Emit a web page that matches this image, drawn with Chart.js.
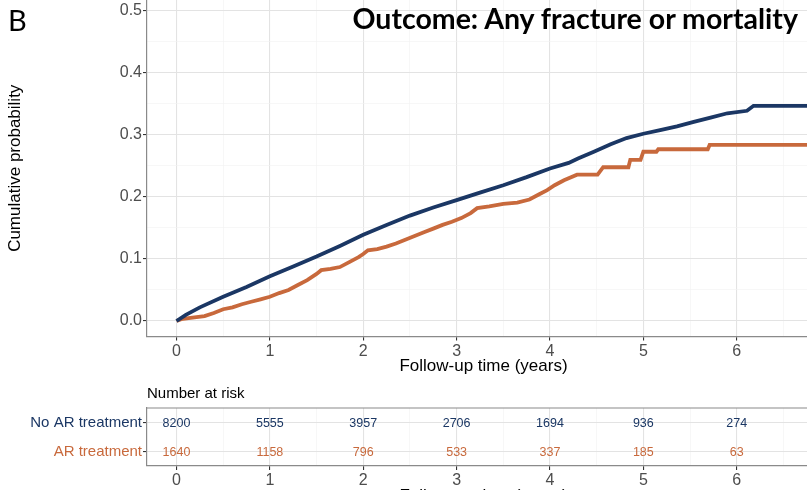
<!DOCTYPE html>
<html>
<head>
<meta charset="utf-8">
<script src="https://cdn.jsdelivr.net/npm/chart.js@4.4.0/dist/chart.umd.min.js"></script>
<style>
  html, body { margin: 0; padding: 0; background: #fff; overflow: hidden; }
  #wrap { position: relative; width: 807px; height: 490px; overflow: hidden; background: #fff; }
  canvas { position: absolute; left: 0; }
  #kmChart { top: 0; }
  #riskChart { top: 380px; }
  .txt { position: absolute; white-space: nowrap; }
  #panelLetter { left: 8px; top: 2px; font: 29px/36px Lato, "Liberation Sans", sans-serif; color: #000; }
  #plotTitle { right: 9px; top: 0; font: bold 28.5px/36px Lato, "Liberation Sans", sans-serif; color: #000; }
  #riskTitle { left: 147px; top: 384px; font: 15px/18px "Liberation Sans", Arial, sans-serif; color: #000; }
</style>
</head>
<body>
<div id="wrap">
  <canvas id="kmChart" width="820" height="380"></canvas>
  <canvas id="riskChart" width="820" height="130"></canvas>
  <div class="txt" id="panelLetter">B</div>
  <div class="txt" id="plotTitle">Outcome: Any fracture or mortality</div>
  <div class="txt" id="riskTitle">Number at risk</div>
</div>
<script>
// Cumulative incidence, No AR treatment (time in years, probability)
const noArTimes = [0, 0.1, 0.25, 0.5, 0.75, 1.0, 1.25, 1.5, 1.75, 2.0, 2.25, 2.5, 2.75, 3.0, 3.25, 3.5,
  3.75, 4.0, 4.2, 4.3, 4.47, 4.65, 4.82, 5.0, 5.18, 5.36, 5.54, 5.72, 5.9, 6.11, 6.18, 6.9];
const noArProb = [0, 0.010, 0.022, 0.039, 0.055, 0.072, 0.088, 0.104, 0.121, 0.139, 0.155, 0.170, 0.183, 0.195, 0.207, 0.219,
  0.232, 0.246, 0.255, 0.262, 0.273, 0.285, 0.295, 0.302, 0.308, 0.314, 0.321, 0.328, 0.335, 0.339, 0.347, 0.347];

// Cumulative incidence, AR treatment (repeated times mark the visible steps)
const arTimes = [0, 0.05, 0.15, 0.3, 0.4, 0.5, 0.6, 0.7, 0.8, 0.9, 1.0, 1.1, 1.2, 1.3, 1.4, 1.5, 1.55, 1.65, 1.75,
  1.85, 1.95, 2.0, 2.05, 2.15, 2.25, 2.35, 2.45, 2.55, 2.65, 2.75, 2.85, 2.95, 3.05, 3.15, 3.22, 3.35, 3.5, 3.65,
  3.78, 3.88, 3.97, 4.05, 4.15, 4.29, 4.51, 4.57, 4.84, 4.86, 4.97, 5.0, 5.14, 5.16, 5.69, 5.71, 6.9];
const arProb = [0, 0.003, 0.005, 0.008, 0.013, 0.019, 0.022, 0.027, 0.031, 0.035, 0.039, 0.045, 0.050, 0.058, 0.066, 0.076, 0.082, 0.084, 0.087,
  0.095, 0.103, 0.108, 0.114, 0.116, 0.120, 0.125, 0.131, 0.137, 0.143, 0.149, 0.155, 0.160, 0.166, 0.174, 0.182, 0.185, 0.189, 0.191,
  0.196, 0.204, 0.211, 0.219, 0.227, 0.236, 0.236, 0.248, 0.248, 0.260, 0.260, 0.273, 0.273, 0.277, 0.277, 0.284, 0.284];

// Number at risk table
const riskTimes = [0, 1, 2, 3, 4, 5, 6];
const noArRisk = [8200, 5555, 3957, 2706, 1694, 936, 274];
const arRisk = [1640, 1158, 796, 533, 337, 185, 63];
const groupLabels = ['No AR treatment', 'AR treatment'];

// Axis ticks (major + minor grid positions)
const xTickValues = [0, 0.5, 1, 1.5, 2, 2.5, 3, 3.5, 4, 4.5, 5, 5.5, 6, 6.5];
const yTickValues = [0, 0.05, 0.1, 0.15, 0.2, 0.25, 0.3, 0.35, 0.4, 0.45, 0.5];

const NAVY = '#1b3764';
const ORANGE = '#c8693c';
const FONT = '"Liberation Sans", Arial, sans-serif';
const X_MIN = -0.316;
const X_MAX = 6.892;

function isMajor(v, step) {
  return Math.abs(v / step - Math.round(v / step)) < 1e-6;
}

// Gridline styling like ggplot theme_bw
function gridColor(step) {
  return (c) => (c.tick && isMajor(c.tick.value, step)) ? '#e3e3e3' : '#f1f1f1';
}
function gridWidth(step) {
  return (c) => (c.tick && isMajor(c.tick.value, step)) ? 1.1 : 0.6;
}
function tickMarkColor(step) {
  return (c) => (c.tick && isMajor(c.tick.value, step)) ? '#333333' : 'rgba(0,0,0,0)';
}

// Draws the top edge of the panel box (left/bottom come from axis borders)
const panelTopBorder = {
  id: 'panelTopBorder',
  afterDraw(chart, args, opts) {
    if (!opts.display) return;
    const { ctx, chartArea } = chart;
    ctx.save();
    ctx.strokeStyle = '#8a8a8a';
    ctx.lineWidth = 1.2;
    ctx.beginPath();
    ctx.moveTo(chartArea.left, chartArea.top);
    ctx.lineTo(chartArea.right, chartArea.top);
    ctx.stroke();
    ctx.restore();
  }
};

// Writes the number at risk at each point position
const riskNumbers = {
  id: 'riskNumbers',
  afterDatasetsDraw(chart) {
    const ctx = chart.ctx;
    chart.data.datasets.forEach((ds, i) => {
      const meta = chart.getDatasetMeta(i);
      ctx.save();
      ctx.font = '12.5px ' + FONT;
      ctx.fillStyle = ds.textColor;
      ctx.textAlign = 'center';
      ctx.textBaseline = 'middle';
      meta.data.forEach((pt, j) => {
        ctx.fillText(String(ds.data[j].n), pt.x, pt.y + 1);
      });
      ctx.restore();
    });
  }
};

function xAxis(height) {
  return {
    type: 'linear',
    min: X_MIN,
    max: X_MAX,
    afterBuildTicks: (axis) => { axis.ticks = xTickValues.map(v => ({ value: v })); },
    afterFit: (scale) => {
      scale.height = height;
      scale.paddingLeft = 0;
      scale.paddingRight = 0;
    },
    border: { display: true, color: '#8a8a8a', width: 1.2 },
    grid: {
      color: gridColor(1),
      lineWidth: gridWidth(1),
      drawTicks: true,
      tickLength: 4,
      tickColor: tickMarkColor(1),
      tickWidth: 1.1
    },
    ticks: {
      autoSkip: false,
      maxRotation: 0,
      padding: 1,
      color: '#4d4d4d',
      font: { family: FONT, size: 16 },
      callback: (v) => isMajor(v, 1) ? String(Math.round(v)) : ''
    },
    title: {
      display: true,
      text: 'Follow-up time (years)',
      color: '#000',
      font: { family: FONT, size: 17 },
      padding: { top: 4, bottom: 3 }
    }
  };
}

function buildKmChart() {
  const ctx = document.getElementById('kmChart').getContext('2d');
  new Chart(ctx, {
    type: 'line',
    data: {
      datasets: [
        {
          label: 'No AR treatment',
          data: noArTimes.map((t, i) => ({ x: t, y: noArProb[i] })),
          borderColor: NAVY,
          borderWidth: 3.8,
          pointRadius: 0,
          tension: 0,
          fill: false
        },
        {
          label: 'AR treatment',
          data: arTimes.map((t, i) => ({ x: t, y: arProb[i] })),
          borderColor: ORANGE,
          borderWidth: 3.8,
          pointRadius: 0,
          tension: 0,
          fill: false
        }
      ]
    },
    options: {
      responsive: false,
      animation: false,
      layout: { padding: 0 },
      plugins: {
        legend: { display: false },
        tooltip: { enabled: false },
        panelTopBorder: { display: false }
      },
      scales: {
        x: xAxis(43.5),
        y: {
          type: 'linear',
          min: -0.025,
          max: 0.5177,
          afterBuildTicks: (axis) => { axis.ticks = yTickValues.map(v => ({ value: v })); },
          afterFit: (scale) => {
            scale.width = 147;
            scale.paddingTop = 0;
            scale.paddingBottom = 0;
          },
          border: { display: true, color: '#8a8a8a', width: 1.2 },
          grid: {
            color: gridColor(0.1),
            lineWidth: gridWidth(0.1),
            drawTicks: true,
            tickLength: 4,
            tickColor: tickMarkColor(0.1),
            tickWidth: 1.1
          },
          ticks: {
            autoSkip: false,
            padding: 1,
            color: '#4d4d4d',
            font: { family: FONT, size: 16 },
            callback: (v) => isMajor(v, 0.1) ? v.toFixed(1) : ''
          },
          title: {
            display: true,
            text: 'Cumulative probability',
            color: '#000',
            font: { family: FONT, size: 17 },
            padding: { top: 5, bottom: 4 }
          }
        }
      }
    }
  });
}

function buildRiskChart() {
  const ctx = document.getElementById('riskChart').getContext('2d');
  new Chart(ctx, {
    type: 'scatter',
    data: {
      datasets: [
        {
          label: groupLabels[0],
          data: riskTimes.map((t, i) => ({ x: t, y: groupLabels[0], n: noArRisk[i] })),
          textColor: NAVY,
          pointRadius: 0,
          showLine: false
        },
        {
          label: groupLabels[1],
          data: riskTimes.map((t, i) => ({ x: t, y: groupLabels[1], n: arRisk[i] })),
          textColor: ORANGE,
          pointRadius: 0,
          showLine: false
        }
      ]
    },
    options: {
      responsive: false,
      animation: false,
      layout: { padding: { top: 28, left: 0, right: 0, bottom: 0 } },
      plugins: {
        legend: { display: false },
        tooltip: { enabled: false },
        panelTopBorder: { display: true }
      },
      scales: {
        x: xAxis(44),
        y: {
          type: 'category',
          labels: groupLabels,
          offset: true,
          afterFit: (scale) => {
            scale.width = 147;
            scale.paddingTop = 0;
            scale.paddingBottom = 0;
          },
          border: { display: true, color: '#8a8a8a', width: 1.2 },
          grid: {
            offset: false,
            color: '#e3e3e3',
            lineWidth: 1.1,
            drawTicks: true,
            tickLength: 4,
            tickColor: '#333333',
            tickWidth: 1.1
          },
          ticks: {
            padding: 1,
            color: (c) => c.index === 0 ? NAVY : ORANGE,
            font: { family: FONT, size: 15 }
          }
        }
      }
    },
    plugins: [riskNumbers, panelTopBorder]
  });
}

function initCharts() {
  buildKmChart();
  buildRiskChart();
}

if (document.readyState === 'loading') {
  document.addEventListener('DOMContentLoaded', initCharts);
} else {
  initCharts();
}
</script>
</body>
</html>
